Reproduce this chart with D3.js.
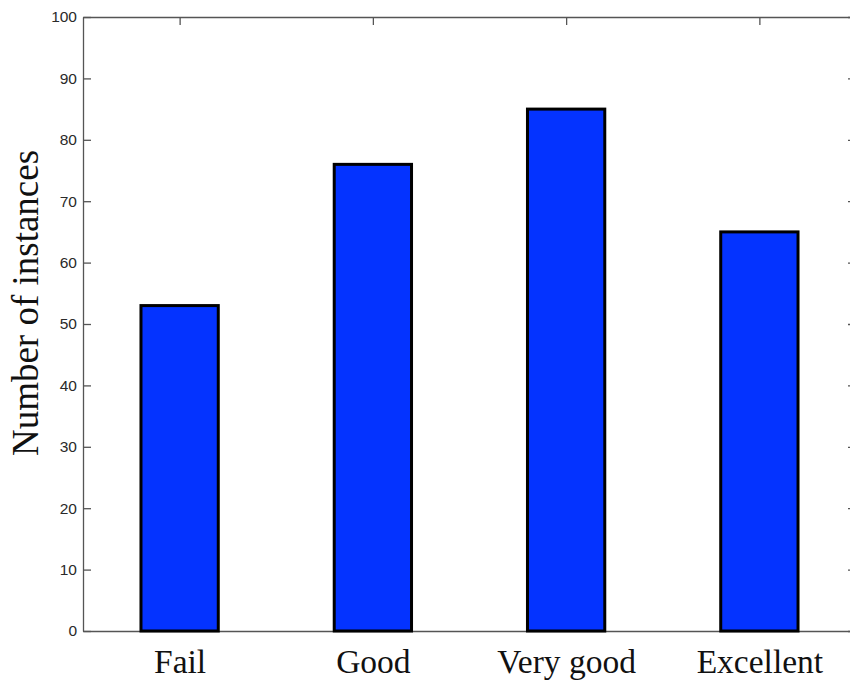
<!DOCTYPE html>
<html>
<head>
<meta charset="utf-8">
<script src="https://cdn.jsdelivr.net/npm/d3@7"></script>
<style>
  body { margin: 0; background: #fff; }
  svg { display: block; }
</style>
</head>
<body>
<div id="chart"></div>
<script>
const categories = ['Fail', 'Good', 'Very good', 'Excellent'];
const counts = [53, 76, 85, 65];
const yTicks = [0, 10, 20, 30, 40, 50, 60, 70, 80, 90, 100];

const width = 850, height = 680;
// plot box; right edge sits just past the window like the original
const margin = { top: 17, left: 83, right: 856, bottom: 631 };

const svg = d3.select('#chart')
  .append('svg')
  .attr('width', width)
  .attr('height', height);

// categories at 1..4 with half a unit padding either side
const x = d3.scaleLinear()
  .domain([0.5, categories.length + 0.5])
  .range([margin.left, margin.right]);

const y = d3.scaleLinear()
  .domain([0, 100])
  .range([margin.bottom, margin.top]);

const barWidth = 0.4;
const tickLen = 8;
const axisColor = '#555';

// Axes box
const axes = svg.append('g');

// Left axis
axes.append('g')
  .attr('transform', `translate(${margin.left},0)`)
  .call(d3.axisLeft(y).tickValues(yTicks).tickSizeInner(-tickLen).tickSizeOuter(0).tickPadding(6))
  .call(g => g.select('.domain').attr('stroke', axisColor).attr('stroke-width', 1.3))
  .call(g => g.selectAll('.tick line').attr('stroke', axisColor).attr('stroke-width', 1.3))
  .call(g => g.selectAll('.tick text')
    .attr('font-family', 'Liberation Sans, Arial, sans-serif')
    .attr('font-size', 15.5)
    .attr('fill', '#2a2a2a'));

// Right axis (ticks only visible)
axes.append('g')
  .attr('transform', `translate(${margin.right},0)`)
  .call(d3.axisRight(y).tickValues(yTicks).tickSizeInner(-tickLen).tickSizeOuter(0).tickFormat(''))
  .call(g => g.select('.domain').attr('stroke', axisColor).attr('stroke-width', 1.3))
  .call(g => g.selectAll('.tick line').attr('stroke', axisColor).attr('stroke-width', 1.3));

// Top axis
axes.append('g')
  .attr('transform', `translate(0,${margin.top})`)
  .call(d3.axisTop(x).tickValues(d3.range(1, categories.length + 1)).tickSizeInner(-tickLen).tickSizeOuter(0).tickFormat(''))
  .call(g => g.select('.domain').attr('stroke', axisColor).attr('stroke-width', 1.3))
  .call(g => g.selectAll('.tick line').attr('stroke', axisColor).attr('stroke-width', 1.3));

// Bottom axis
axes.append('g')
  .attr('transform', `translate(0,${margin.bottom})`)
  .call(d3.axisBottom(x)
    .tickValues(d3.range(1, categories.length + 1))
    .tickSizeInner(-tickLen).tickSizeOuter(0).tickPadding(42)
    .tickFormat(d => categories[d - 1]))
  .call(g => g.select('.domain').attr('stroke', axisColor).attr('stroke-width', 1.3))
  .call(g => g.selectAll('.tick line').attr('stroke', axisColor).attr('stroke-width', 1.3))
  .call(g => g.selectAll('.tick text')
    .attr('font-family', 'Liberation Serif, Times New Roman, serif')
    .attr('font-size', 33.5)
    .attr('dy', 0)
    .attr('fill', '#111'));

// Bars
svg.append('g')
  .selectAll('rect')
  .data(counts)
  .join('rect')
  .attr('x', (d, i) => x(i + 1 - barWidth / 2))
  .attr('y', d => y(d))
  .attr('width', (d, i) => x(i + 1 + barWidth / 2) - x(i + 1 - barWidth / 2))
  .attr('height', d => y(0) - y(d))
  .attr('fill', '#0433ff')
  .attr('stroke', '#000')
  .attr('stroke-width', 3);

// Y label
svg.append('text')
  .attr('transform', `translate(38,303) rotate(-90)`)
  .attr('text-anchor', 'middle')
  .attr('font-family', 'Liberation Serif, Times New Roman, serif')
  .attr('font-size', 37)
  .attr('fill', '#111')
  .text('Number of instances');
</script>
</body>
</html>
